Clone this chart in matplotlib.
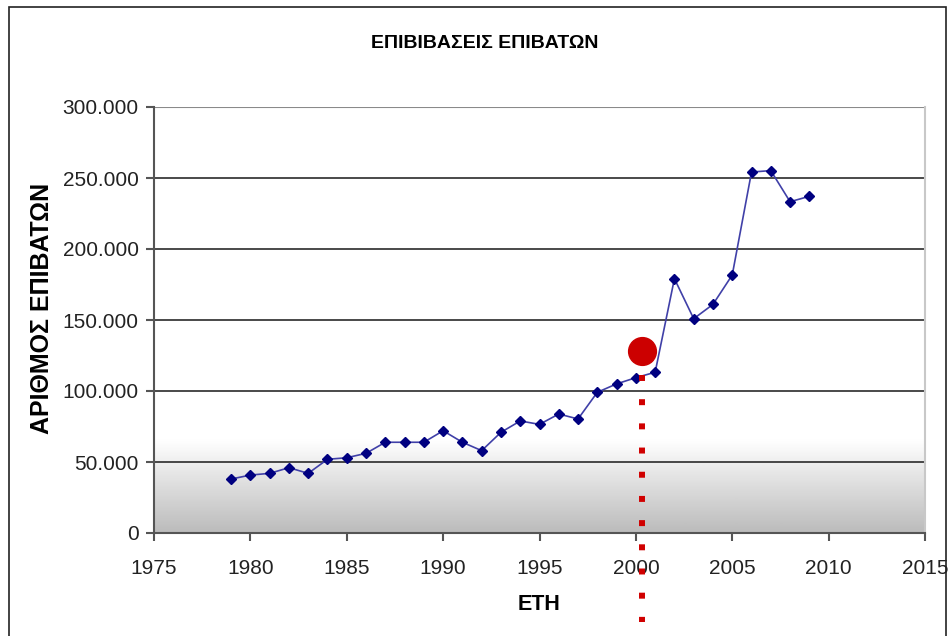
import numpy as np
import matplotlib
matplotlib.use("Agg")
import matplotlib.pyplot as plt
from matplotlib.ticker import FuncFormatter
from matplotlib.patches import Rectangle
from matplotlib.colors import LinearSegmentedColormap

# data
years = [1979, 1980, 1981, 1982, 1983, 1984, 1985, 1986, 1987, 1988,
         1989, 1990, 1991, 1992, 1993, 1994, 1995, 1996, 1997, 1998,
         1999, 2000, 2001, 2002, 2003, 2004, 2005, 2006, 2007, 2008, 2009]
passengers = [38000, 40800, 42000, 46000, 42000, 51900, 53000, 56100, 63900, 63900,
              63900, 72000, 63900, 58000, 70900, 78900, 76500, 83800, 80300, 99100,
              105000, 109400, 113200, 179100, 150900, 161000, 181700, 254200, 255200, 233300, 237100]
marker_year = 2000.3
marker_value = 128000

title = "ΕΠΙΒΙΒΑΣΕΙΣ ΕΠΙΒΑΤΩΝ"
ylabel = "ΑΡΙΘΜΟΣ ΕΠΙΒΑΤΩΝ"
xlabel = "ΕΤΗ"

plt.rcParams['font.family'] = ['Liberation Sans', 'DejaVu Sans']

fig = plt.figure(figsize=(9.53, 6.36), dpi=100)
ax = fig.add_axes([154/953, 1 - 533/636, (925 - 154)/953, (533 - 107)/636])

# outer frame
fig.patches.append(Rectangle((9/953, -0.05), (946 - 9)/953, 1.05 - 7/636,
                             transform=fig.transFigure, fill=False,
                             edgecolor='#222222', linewidth=1.2))

# gradient background (grey at the bottom, white from ~65k up)
bg = LinearSegmentedColormap.from_list(
    'bg', [(0.0, '#bcbcbc'), (50/300, '#efefef'), (65/300, '#ffffff'), (1.0, '#ffffff')])
grad = np.linspace(0, 1, 600).reshape(-1, 1)
ax.imshow(grad, extent=[1975, 2015, 0, 300000], origin='lower', aspect='auto',
          cmap=bg, vmin=0, vmax=1, zorder=0)

ax.set_xlim(1975, 2015)
ax.set_ylim(0, 300000)

for v in [50000, 100000, 150000, 200000, 250000]:
    ax.axhline(v, color='#3a3a3a', linewidth=1.3, zorder=1)
ax.axhline(300000, color='#8a8a8a', linewidth=1.5, zorder=1)

ax.plot(years, passengers, color='#4040a8', linewidth=1.2, marker='D',
        markersize=5, markerfacecolor='#000080', markeredgecolor='#000080', zorder=3)

ax.plot([marker_year, marker_year], [111500, -63000], color='#d00000', linewidth=4.3,
        linestyle=(0, (1, 3.05)), dash_capstyle='butt', clip_on=False, zorder=4)
ax.plot([marker_year], [marker_value], 'o', color='#cc0000', markersize=20, zorder=5)

ax.set_xticks(range(1975, 2016, 5))
ax.set_yticks(range(0, 300001, 50000))
ax.yaxis.set_major_formatter(FuncFormatter(lambda v, p: f"{int(v):,}".replace(",", ".")))
ax.tick_params(axis='both', labelsize=15, colors='#222222', length=6, width=1.5,
               direction='out')
ax.tick_params(axis='y', pad=5, color='#555555')
ax.tick_params(axis='x', pad=13, color='#555555')

ax.spines['top'].set_visible(False)
ax.spines['left'].set_color('#555555')
ax.spines['left'].set_linewidth(1.5)
ax.spines['bottom'].set_color('#555555')
ax.spines['bottom'].set_linewidth(1.5)
ax.spines['right'].set_color('#c8c8c8')
ax.spines['right'].set_linewidth(1.5)

fig.text(485/953, 1 - 44/636, title, ha='center', va='center', fontsize=14,
         fontweight='bold')
fig.text(42/953, 1 - 308/636, ylabel, ha='center', va='center', rotation=90,
         fontsize=18, fontweight='bold')
fig.text(539/953, 1 - 604/636, xlabel, ha='center', va='center', fontsize=15.5,
         fontweight='bold')

fig.savefig("out.png", dpi=100)
